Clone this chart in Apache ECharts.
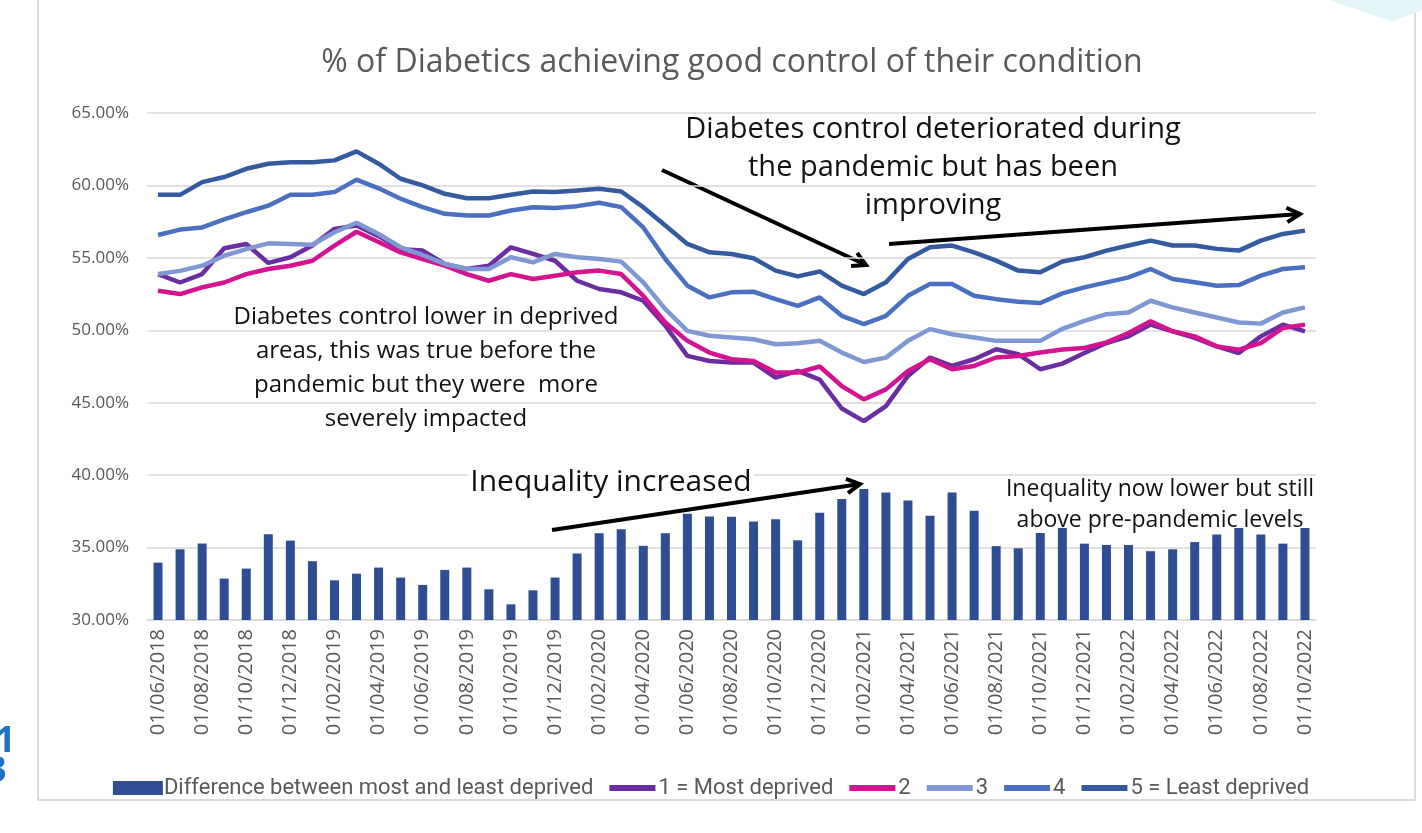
<!DOCTYPE html>
<html>
<head>
<meta charset="utf-8">
<script src="https://cdn.jsdelivr.net/npm/echarts@6/dist/echarts.min.js"></script>
<style>
  html, body { margin: 0; padding: 0; background: #fff; }
  #chart { width: 1422px; height: 833px; }
</style>
</head>
<body>
<div id="chart"></div>
<script>
// monthly, 01/06/2018 .. 01/10/2022
var months = [];
for (var y = 2018; y <= 2022; y++) {
    for (var m = 1; m <= 12; m++) {
        if (y === 2018 && m < 6) continue;
        if (y === 2022 && m > 10) continue;
        months.push('01/' + (m < 10 ? '0' + m : m) + '/' + y);
    }
}

var yTicks = [30, 35, 40, 45, 50, 55, 60, 65];

var difference = [33.96, 34.88, 35.28, 32.86, 33.55, 35.92, 35.48, 34.06, 32.74, 33.2, 33.62, 32.93, 32.42, 33.46, 33.62, 32.12, 31.08, 32.05, 32.93, 34.59, 35.99, 36.27, 35.12, 35.99, 37.33, 37.14, 37.13, 36.8, 36.95, 35.5, 37.4, 38.35, 39.05, 38.8, 38.25, 37.2, 38.8, 37.55, 35.1, 34.95, 36.0, 36.35, 35.27, 35.18, 35.18, 34.75, 34.88, 35.38, 35.9, 36.35, 35.9, 35.27, 36.35];

var mostDeprived = [53.88, 53.3, 53.88, 55.66, 55.96, 54.65, 55.04, 55.85, 57.0, 57.23, 56.5, 55.6, 55.5, 54.58, 54.23, 54.46, 55.73, 55.27, 54.8, 53.42, 52.85, 52.62, 52.04, 50.31, 48.23, 47.88, 47.77, 47.77, 46.73, 47.2, 46.6, 44.6, 43.73, 44.77, 46.85, 48.12, 47.54, 48.0, 48.69, 48.35, 47.31, 47.7, 48.43, 49.12, 49.58, 50.39, 49.93, 49.47, 48.89, 48.43, 49.58, 50.39, 49.93];

var quintile2 = [52.73, 52.5, 52.96, 53.3, 53.88, 54.23, 54.46, 54.8, 55.85, 56.8, 56.1, 55.38, 54.92, 54.46, 53.88, 53.42, 53.88, 53.54, 53.77, 54.0, 54.12, 53.88, 52.38, 50.54, 49.27, 48.46, 48.0, 47.88, 47.08, 47.08, 47.5, 46.15, 45.23, 45.92, 47.19, 48.0, 47.31, 47.54, 48.12, 48.23, 48.46, 48.68, 48.78, 49.17, 49.81, 50.62, 49.93, 49.58, 48.89, 48.66, 49.12, 50.16, 50.39];

var quintile3 = [53.88, 54.1, 54.46, 55.15, 55.6, 56.0, 55.96, 55.9, 56.77, 57.42, 56.65, 55.73, 55.2, 54.58, 54.23, 54.23, 55.04, 54.69, 55.27, 55.04, 54.92, 54.74, 53.31, 51.46, 49.96, 49.62, 49.5, 49.38, 49.04, 49.1, 49.27, 48.46, 47.81, 48.11, 49.27, 50.08, 49.73, 49.5, 49.27, 49.27, 49.27, 50.1, 50.65, 51.11, 51.23, 52.04, 51.58, 51.23, 50.88, 50.54, 50.46, 51.23, 51.58];

var quintile4 = [56.58, 56.95, 57.1, 57.65, 58.15, 58.6, 59.35, 59.35, 59.54, 60.4, 59.8, 59.08, 58.5, 58.04, 57.92, 57.92, 58.27, 58.5, 58.44, 58.57, 58.8, 58.5, 57.1, 54.92, 53.08, 52.27, 52.62, 52.66, 52.15, 51.69, 52.27, 51.0, 50.42, 51.0, 52.38, 53.19, 53.19, 52.38, 52.15, 51.97, 51.88, 52.55, 52.96, 53.31, 53.65, 54.23, 53.54, 53.31, 53.08, 53.12, 53.77, 54.23, 54.35];

var leastDeprived = [59.35, 59.35, 60.23, 60.58, 61.15, 61.5, 61.6, 61.6, 61.73, 62.35, 61.5, 60.46, 60.0, 59.42, 59.12, 59.12, 59.35, 59.58, 59.54, 59.65, 59.77, 59.58, 58.5, 57.23, 55.96, 55.38, 55.27, 54.97, 54.12, 53.72, 54.06, 53.08, 52.5, 53.31, 54.92, 55.73, 55.85, 55.38, 54.81, 54.12, 54.0, 54.75, 55.04, 55.5, 55.85, 56.19, 55.85, 55.85, 55.62, 55.5, 56.19, 56.65, 56.88];

var annotationFont = '"Open Sans", "Noto Sans", sans-serif';
var axisFont = '"Open Sans", sans-serif';
// thick bar centred in a taller box, so line icons look like Excel's
var lineIcon = 'path://M0,0 M0,4 L46,4 L46,10 L0,10 Z M46,14';

function arrow(x1, y1, x2, y2) {
    var a = Math.atan2(y2 - y1, x2 - x1);
    var len = 15, spread = 0.5;
    return {
        type: 'group',
        children: [
            {type: 'line', shape: {x1: x1, y1: y1, x2: x2, y2: y2}, style: {stroke: '#000', lineWidth: 4}},
            {type: 'polyline', shape: {points: [
                [x2 - len * Math.cos(a - spread), y2 - len * Math.sin(a - spread)],
                [x2, y2],
                [x2 - len * Math.cos(a + spread), y2 - len * Math.sin(a + spread)]
            ]}, style: {stroke: '#000', lineWidth: 4, fill: null, lineJoin: 'miter'}}
        ]
    };
}

function lineSeries(name, data, color) {
    return {
        name: name,
        type: 'line',
        data: data,
        showSymbol: false,
        symbol: 'none',
        lineStyle: {color: color, width: 4.5},
        itemStyle: {color: color}
    };
}

var chart = echarts.init(document.getElementById('chart'));
var option = {
    backgroundColor: '#fff',
    animation: false,
    title: {
        text: '% of Diabetics achieving good control of their condition',
        left: 727,
        top: 42,
        textAlign: 'center',
        textStyle: {color: '#595959', fontSize: 32, fontWeight: 'normal', fontFamily: axisFont}
    },
    grid: {left: 147, right: 106, top: 113, height: 507},
    legend: {
        bottom: 29,
        left: 'center',
        itemGap: 16,
        itemWidth: 50,
        itemHeight: 14,
        textStyle: {color: '#595959', fontSize: 22, padding: [0, 0, 0, -4], fontFamily: 'Roboto, sans-serif'},
        data: [
            {name: 'Difference between most and least deprived', icon: 'rect'},
            {name: '1 = Most deprived', icon: lineIcon},
            {name: '2', icon: lineIcon},
            {name: '3', icon: lineIcon},
            {name: '4', icon: lineIcon},
            {name: '5 = Least deprived', icon: lineIcon}
        ]
    },
    xAxis: {
        type: 'category',
        data: months,
        axisLine: {lineStyle: {color: '#d9d9d9', width: 1.5}},
        axisTick: {interval: 1, length: 6, lineStyle: {color: '#d9d9d9'}},
        axisLabel: {interval: 1, rotate: 90, color: '#595959', fontSize: 20, margin: 9, fontFamily: axisFont}
    },
    yAxis: {
        type: 'value',
        min: yTicks[0],
        max: yTicks[yTicks.length - 1],
        interval: 5,
        axisLabel: {
            color: '#595959', fontSize: 17, margin: 18, fontFamily: axisFont,
            formatter: function (v) { return v.toFixed(2) + '%'; }
        },
        splitLine: {lineStyle: {color: '#d9d9d9', width: 1.5}}
    },
    series: [
        {
            name: 'Difference between most and least deprived',
            type: 'bar',
            data: difference,
            barWidth: 9,
            itemStyle: {color: '#2e4d93'}
        },
        lineSeries('1 = Most deprived', mostDeprived, '#6b2ea0'),
        lineSeries('2', quintile2, '#d3138f'),
        lineSeries('3', quintile3, '#7f98d4'),
        lineSeries('4', quintile4, '#4a70c1'),
        lineSeries('5 = Least deprived', leastDeprived, '#345a9f')
    ],
    graphic: [
        {type: 'rect', shape: {x: 38, y: -3, width: 1377, height: 803}, style: {stroke: '#d0d0d0', lineWidth: 1.5, fill: null}, z: -1},
        {type: 'polygon', shape: {points: [[1330, 0], [1422, 0], [1422, 10], [1392, 22]]}, style: {fill: '#e4f5f7'}},
        {type: 'text', x: -5, y: 724, style: {text: '1', fill: '#1d73c2', font: 'bold 36px "Open Sans", sans-serif'}},
        {type: 'text', x: -14, y: 754, style: {text: '3', fill: '#1d73c2', font: 'bold 36px "Open Sans", sans-serif'}},
        {type: 'text', x: 933, y: 111, style: {
            text: 'Diabetes control deteriorated during\nthe pandemic but has been\nimproving',
            textAlign: 'center', fill: '#111', font: '29px ' + annotationFont, lineHeight: 38
        }},
        {type: 'text', x: 426, y: 300, style: {
            text: 'Diabetes control lower in deprived\nareas, this was true before the\npandemic but they were  more\nseverely impacted',
            textAlign: 'center', fill: '#111', font: '24px ' + annotationFont, lineHeight: 34
        }},
        {type: 'text', x: 611, y: 465, z: 10, style: {
            text: 'Inequality increased',
            textAlign: 'center', fill: '#111', font: '30px ' + annotationFont,
            backgroundColor: '#fff', padding: [2, 2, 0, 2]
        }},
        {type: 'text', x: 1160, y: 474, style: {
            text: 'Inequality now lower but still\nabove pre-pandemic levels',
            textAlign: 'center', fill: '#111', font: '23px ' + annotationFont, lineHeight: 31
        }},
        arrow(662, 170, 866, 265),
        arrow(889, 244, 1300, 214),
        arrow(552, 530, 860, 484)
    ]
};
chart.setOption(option);
</script>
</body>
</html>
